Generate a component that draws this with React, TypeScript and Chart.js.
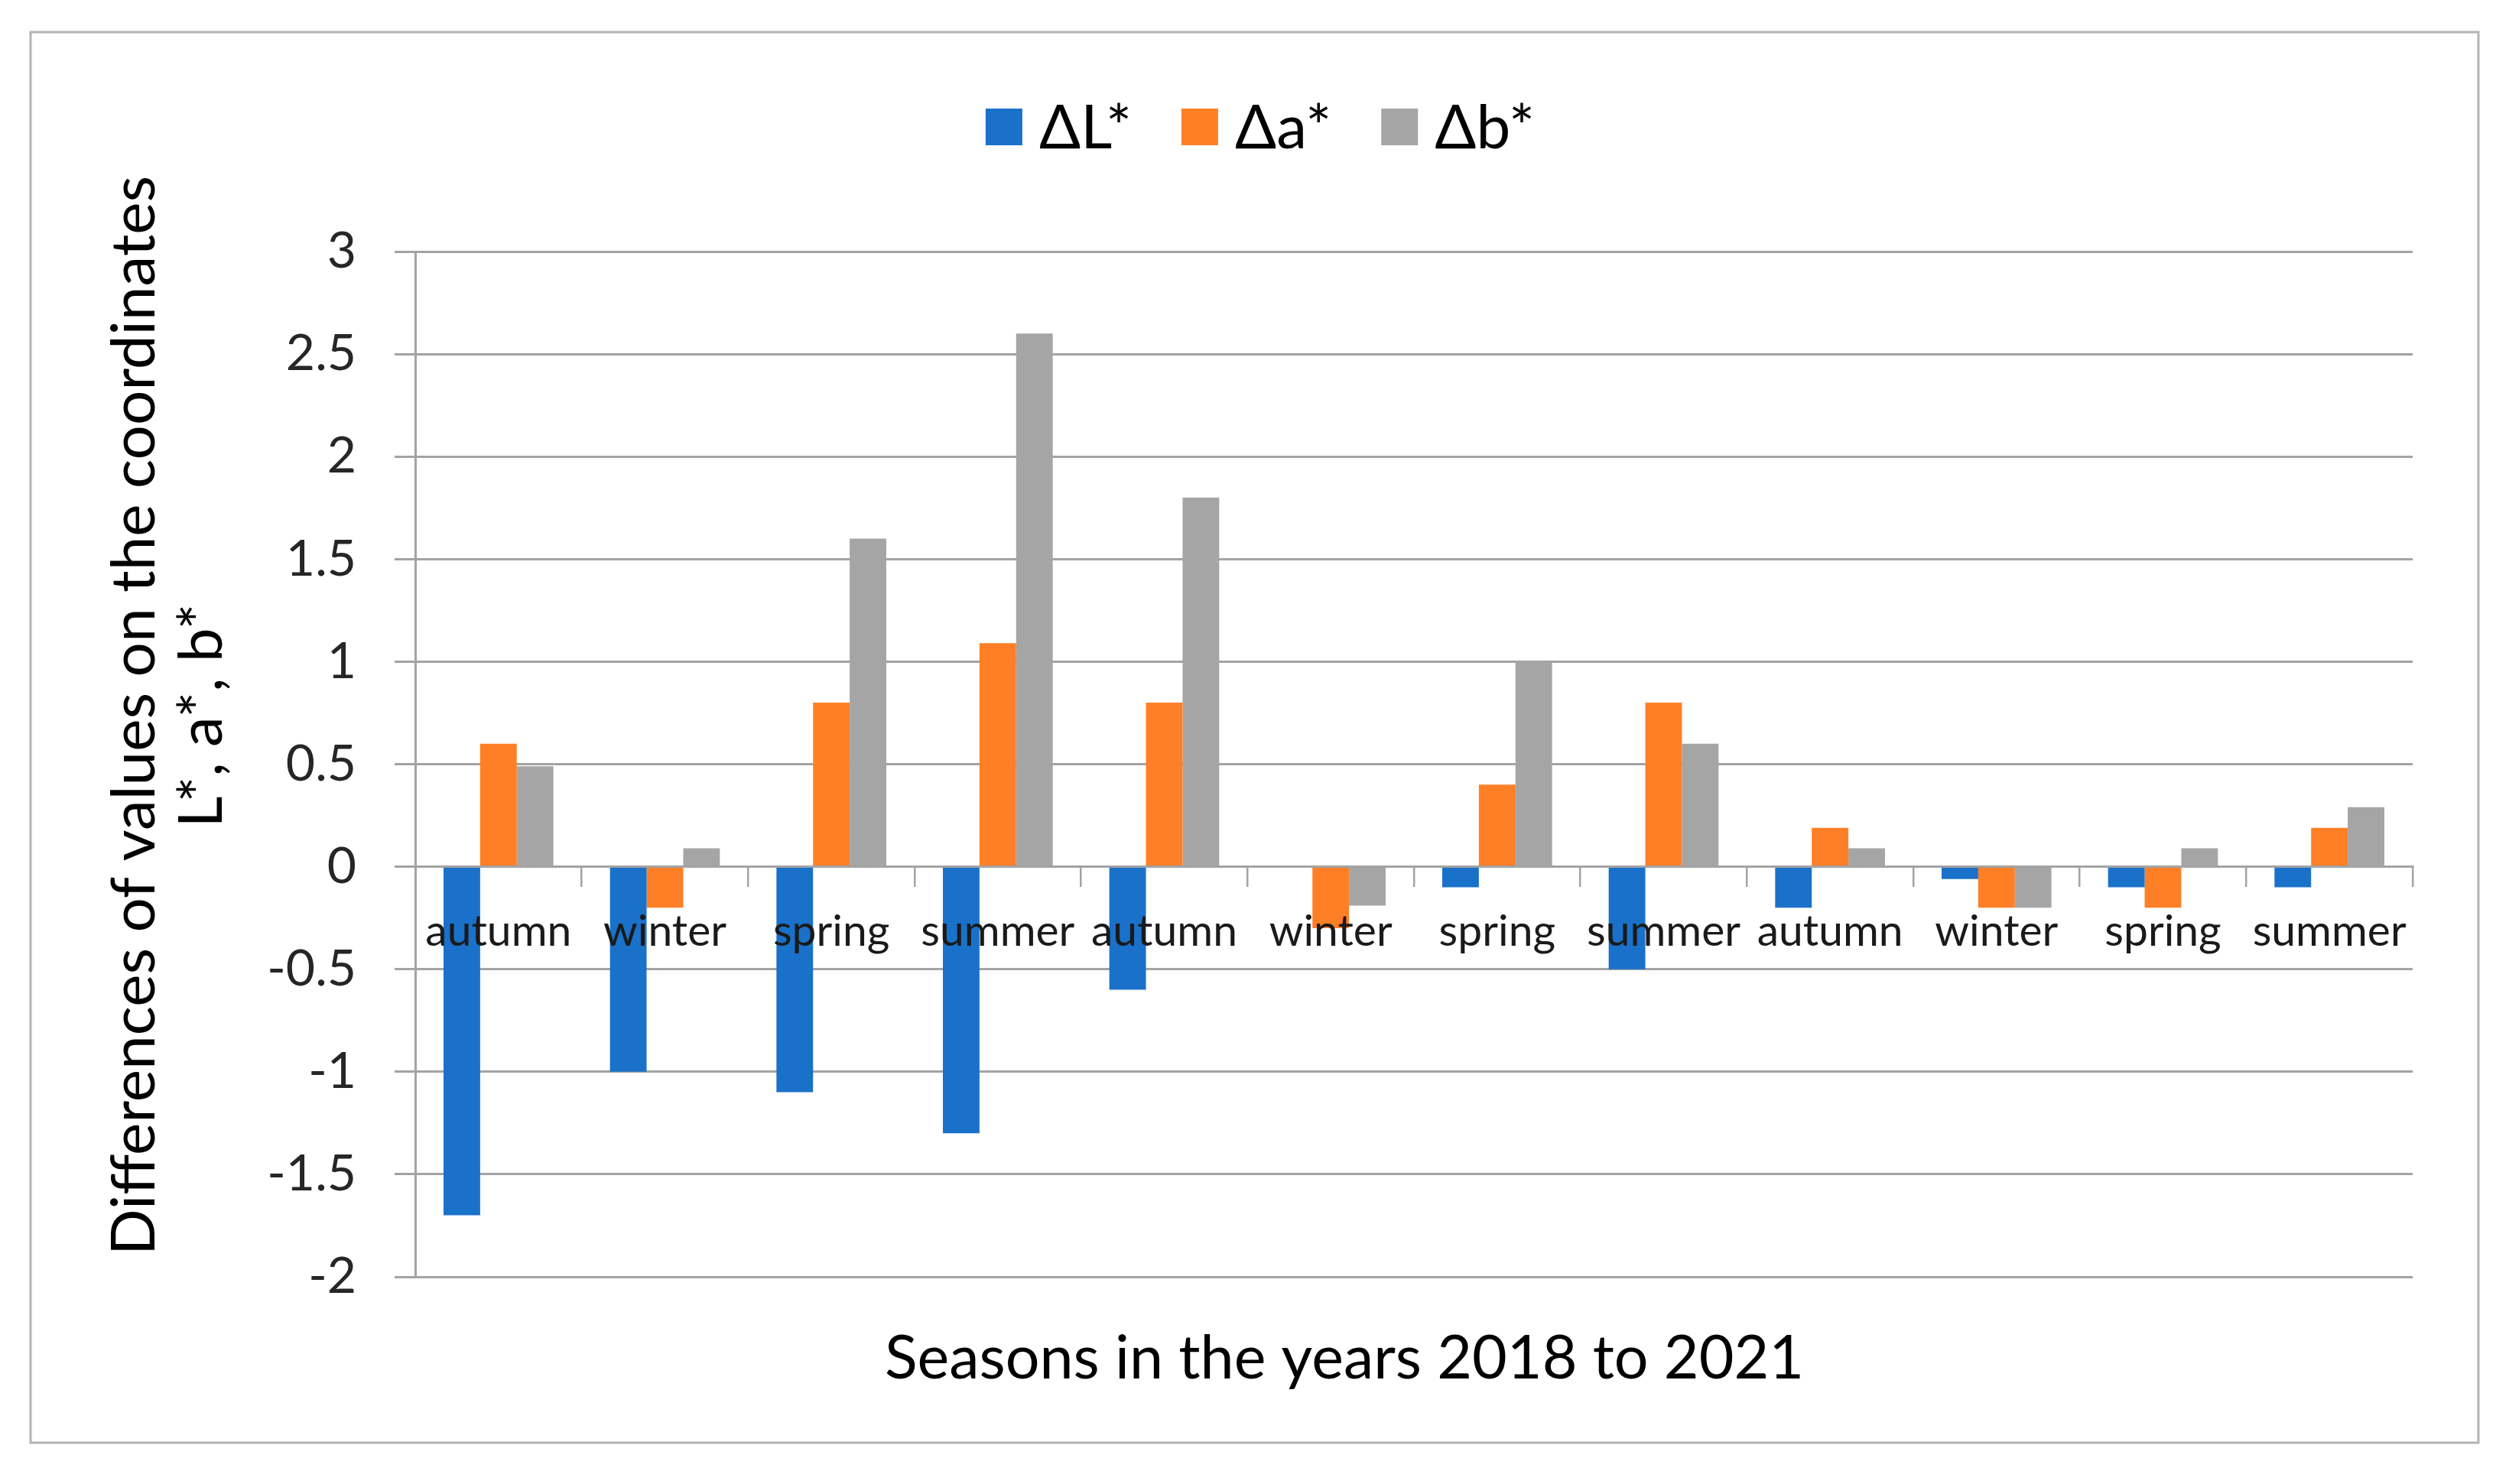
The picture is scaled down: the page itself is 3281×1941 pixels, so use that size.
import React, { useEffect, useRef } from 'react';
import { Chart, registerables } from 'chart.js';

Chart.register(...registerables);

// ---- data ----
const categories = ['autumn', 'winter', 'spring', 'summer', 'autumn', 'winter', 'spring', 'summer', 'autumn', 'winter', 'spring', 'summer'];
const deltaL = [-1.7, -1.0, -1.1, -1.3, -0.6, 0, -0.1, -0.5, -0.2, -0.06, -0.1, -0.1];
const deltaA = [0.6, -0.2, 0.8, 1.09, 0.8, -0.3, 0.4, 0.8, 0.19, -0.2, -0.2, 0.19];
const deltaB = [0.49, 0.09, 1.6, 2.6, 1.8, -0.19, 1.0, 0.6, 0.09, -0.2, 0.09, 0.29];
const seriesNames = ['ΔL*', 'Δa*', 'Δb*'];
const seriesColors = ['#1A71C9', '#FF7F27', '#A5A5A5'];
const yMin = -2;
const yMax = 3;
const yStep = 0.5;
const xTitle = 'Seasons in the years 2018 to 2021';
const yTitle = ['Differences of values on the coordinates', 'L*, a*, b*'];

const W = 3281;
const H = 1941;
const FONT = 'Lato, "Open Sans", sans-serif';
const GRID = '#A3A3A3';

const decorPlugin = {
  id: 'decor',
  afterDraw(chart: any) {
    const ctx = chart.ctx as CanvasRenderingContext2D;
    ctx.save();
    // outer frame
    ctx.strokeStyle = '#B4B4B4';
    ctx.lineWidth = 3;
    ctx.strokeRect(40, 42, 3201, 1845);

    // legend
    ctx.font = `80px ${FONT}`;
    ctx.textBaseline = 'middle';
    ctx.textAlign = 'left';
    const box = 48;
    const gapBoxText = 22;
    const gapItems = 65;
    const widths = chart.data.datasets.map((d: any) => ctx.measureText(d.label).width);
    const total = widths.reduce((s: number, w: number) => s + box + gapBoxText + w, 0) + gapItems * (widths.length - 1);
    let x = 1648 - total / 2;
    const cy = 166;
    chart.data.datasets.forEach((d: any, i: number) => {
      ctx.fillStyle = d.backgroundColor;
      ctx.fillRect(x, cy - box / 2, box, box);
      x += box + gapBoxText;
      ctx.fillStyle = '#000';
      ctx.fillText(d.label, x, cy + 2);
      x += widths[i] + gapItems;
    });

    // x axis title
    ctx.font = `79px ${FONT}`;
    ctx.textAlign = 'center';
    ctx.textBaseline = 'alphabetic';
    ctx.fillStyle = '#000';
    ctx.fillText(xTitle, 1758, 1803);

    // y axis title (rotated)
    ctx.save();
    ctx.translate(202, 936);
    ctx.rotate(-Math.PI / 2);
    ctx.font = `80px ${FONT}`;
    ctx.textAlign = 'center';
    ctx.textBaseline = 'alphabetic';
    yTitle.forEach((line, i) => {
      ctx.fillText(line, 0, i * 88);
    });
    ctx.restore();
    ctx.restore();
  },
};

export default function App() {
  const ref = useRef<HTMLCanvasElement | null>(null);

  useEffect(() => {
    if (!ref.current) return;
    const chart = new Chart(ref.current, {
      type: 'bar',
      data: {
        labels: categories,
        datasets: [deltaL, deltaA, deltaB].map((vals, i) => ({
          label: seriesNames[i],
          data: vals,
          backgroundColor: seriesColors[i],
          borderWidth: 0,
          barPercentage: 1,
          categoryPercentage: 0.66,
        })),
      },
      options: {
        responsive: false,
        animation: false,
        devicePixelRatio: 1,
        layout: { padding: { top: 329, bottom: 271, left: 0, right: 126 } },
        plugins: {
          legend: { display: false },
          tooltip: { enabled: false },
          title: { display: false },
        },
        scales: {
          x: {
            type: 'category',
            position: { y: 0 },
            offset: true,
            grid: {
              drawOnChartArea: false,
              drawTicks: true,
              tickLength: 25,
              offset: true,
              color: GRID,
              lineWidth: 2.5,
              z: 1,
            },
            border: { display: true, color: GRID, width: 3, z: 1 },
            ticks: {
              font: { family: FONT, size: 57 },
              color: '#1A1A1A',
              padding: 26,
              maxRotation: 0,
              minRotation: 0,
              autoSkip: false,
              z: 2,
            },
          },
          y: {
            min: yMin,
            max: yMax,
            ticks: {
              stepSize: yStep,
              font: { family: FONT, size: 66 },
              color: '#262626',
              padding: 50,
              callback: (v: any) => String(Number(v)),
            },
            grid: { color: GRID, lineWidth: 3, tickLength: 27, drawTicks: true },
            border: { display: true, color: GRID, width: 3 },
            afterFit: (s: any) => {
              s.width = 543;
            },
          },
        },
      } as any,
      plugins: [decorPlugin],
    });
    return () => chart.destroy();
  }, []);

  return (
    <canvas
      ref={ref}
      width={W}
      height={H}
      style={{ position: 'absolute', left: 0, top: 0, width: W, height: H, background: '#fff' }}
    />
  );
}
